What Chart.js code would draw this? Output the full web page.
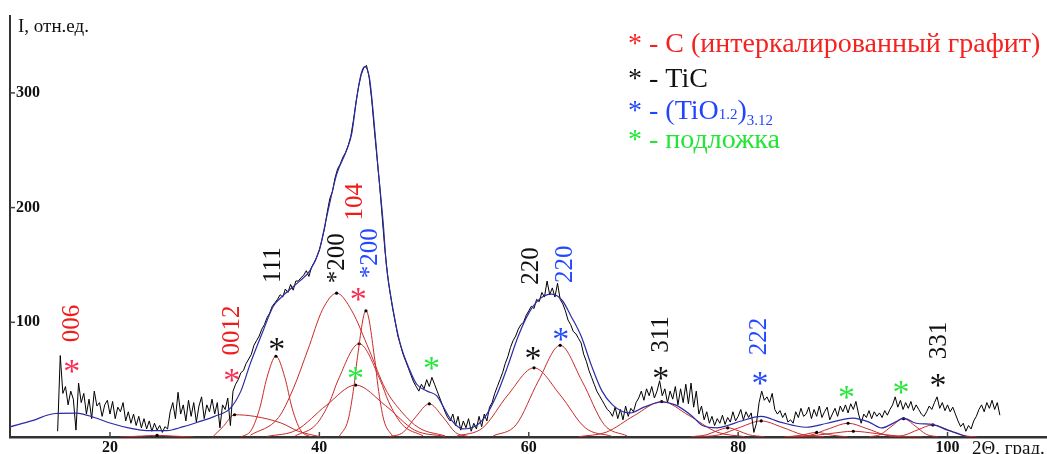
<!DOCTYPE html>
<html>
<head>
<meta charset="utf-8">
<script src="https://cdn.jsdelivr.net/npm/chart.js@4.4.1/dist/chart.umd.min.js"></script>
<style>
  html, body { margin: 0; padding: 0; background: #fff; }
  canvas { display: block; }
</style>
</head>
<body>
<canvas id="xrd" width="1047" height="454"></canvas>
<script>
// measured pattern: 2Θ from 15 to 105 deg, step 0.25
const angleStart = 15;
const angleStep = 0.25;
const intensity = [
  5, 71, 38, 44,   28, 40, 33, 6,   47, 30, 38, 20,   33, 16, 40, 27,   30, 18, 28, 32,
  20, 31, 16, 26,   22, 30, 14, 22,   12, 20, 10, 18,   8, 16, 7, 14,   5, 12, 6, 10,
  4, 9, 7, 22,   30, 16, 39, 20,   28, 14, 32, 18,   30, 13, 27, 35,   16, 28, 22, 33,
  20, 30, 8, 28,   24, 34, 10, 40,   46, 50, 56, 58,   64, 68, 72, 80,   84, 88, 94, 98,
  104, 108, 114, 117,   120, 124, 122, 129,   126, 133, 128, 136,   136, 139, 141, 145,   140, 148, 152, 157,
  163, 172, 182, 196,   208, 214, 226, 234,   238, 244, 248, 254,   262, 276, 292, 306,   316, 322, 324, 314,
  294, 268, 244, 220,   192, 164, 142, 126,   112, 100, 88, 80,   72, 66, 60, 54,   48, 44, 40, 46,
  42, 50, 44, 52,   46, 40, 34, 28,   22, 17, 14, 20,   10, 18, 6, 14,   8, 16, 5, 12,
  7, 18, 9, 20,   14, 26, 30, 38,   44, 50, 56, 64,   70, 78, 84, 88,   94, 98, 100, 106,
  110, 114, 112, 120,   118, 126, 122, 136,   124, 130, 122, 134,   120, 116, 110, 102,   98, 92, 90, 86,
  82, 72, 66, 58,   52, 46, 40, 36,   32, 28, 24, 22,   18, 26, 16, 24,   15, 27, 18, 25,
  22, 30, 34, 40,   32, 42, 36, 44,   34, 40, 49, 36,   42, 30, 40, 33,   44, 28, 42, 30,
  46, 29, 47, 26,   40, 20, 27, 15,   22, 12, 18, 10,   16, 12, 19, 11,   17, 13, 22, 14,
  18, 24, 15, 22,   17, 21, 4, 12,   30, 40, 32, 35,   30, 38, 24, 20,   23, 17, 21, 13,
  15, 12, 22, 17,   25, 18, 20, 26,   16, 24, 18, 27,   17, 22, 26, 15,   20, 25, 18, 27,
  22, 28, 21, 29,   24, 31, 20, 12,   20, 17, 23, 16,   22, 18, 21, 17,   23, 19, 24, 28,
  35, 26, 32, 24,   30, 25, 31, 23,   28, 24, 20, 18,   22, 27, 24, 30,   35, 25, 30, 23,
  28, 22, 26, 20,   14, 9, 12, 5,   10, 7, 14, 18,   24, 28, 22, 30,   25, 32, 24, 30,
  19
];

// total fit (blue envelope)
const fitCurve = [
  [10.45, 8.8], [12.5, 14], [14.75, 20.5], [16.8, 20.9], [18.5, 17], [20, 12.2], [22, 7.5],
  [23.5, 5.6], [25.4, 5.6], [27, 9], [28.6, 13.6], [30, 18], [31.5, 25.2], [32.5, 40],
  [33.4, 64], [34.6, 92], [35.6, 114], [36.5, 123], [38, 135], [39.1, 145], [40, 163],
  [40.7, 192], [41.65, 229], [42.6, 250], [43.1, 265], [43.56, 295], [44.0, 317], [44.35, 323],
  [44.8, 312], [45.15, 282], [45.6, 235], [46.1, 186], [46.4, 150], [47.06, 110], [47.7, 82],
  [48.65, 58], [49.3, 46], [50.3, 40], [51.2, 36], [51.8, 27], [52.5, 16], [53.7, 7],
  [55, 10], [56, 20], [57, 38], [58, 62], [59, 88], [60, 108], [61, 120], [62.2, 124.5],
  [63.2, 119], [64, 106], [65, 88], [66, 62], [67, 40], [68, 28], [69, 22], [69.7, 21],
  [71, 26], [72.7, 30.5], [74, 28], [75.5, 19], [76.6, 10], [78, 8], [79, 10], [80.2, 13.7],
  [82.2, 18], [84, 13], [86.5, 8.5], [88.5, 12], [90.96, 16.5], [92.5, 13], [93.7, 7.9],
  [95, 13], [95.8, 16.5], [97, 12], [98.6, 10.8], [100, 6], [101.8, 0.7]
];

// fitted components (red)
const comp0012 = [[29.8, 0], [30.8, 9], [31.9, 19.4], [33.8, 18], [36.4, 12], [38, 5], [40.2, 0]];
const compTiC111 = [[32.5, 0], [33.5, 6], [34.3, 25], [35, 52], [35.85, 70.4], [36.7, 52], [37.4, 25], [38.2, 6], [39.2, 0]];
const compTiC200 = [[33.4, 1.5], [36.1, 17], [37.5, 42], [38.9, 76], [40.3, 111], [41.65, 125.4], [43.1, 110], [44.75, 76], [46.3, 42], [47.85, 22], [49.5, 8], [52, 1]];
const comp104 = [[41.9, 0.5], [42.75, 15], [43.3, 44], [43.6, 67], [44.45, 110], [45.3, 67], [45.6, 44], [46.15, 15], [47, 0.5]];
const compTiO200 = [[37.7, 1], [39.7, 11], [41.0, 31], [41.76, 49], [43.8, 81.3], [45.84, 49], [46.6, 31], [47.9, 11], [49.9, 1]];
const compSub43 = [[35, 0.5], [37.8, 6], [40.65, 27.5], [43.46, 45.3], [46.3, 27.5], [49.1, 6], [52, 0.5]];
const compSub50 = [[46.7, 0.3], [48, 4], [49.2, 17.5], [50.5, 28.9], [51.8, 17.5], [53, 4], [54.3, 0.3]];
const compTiC220 = [[53.1, 0.7], [55.6, 8], [58.0, 36.6], [60.5, 60.3], [63.0, 36.6], [65.4, 8], [67.9, 0.7]];
const compTiO220 = [[56.6, 0.9], [58.8, 10.8], [60.9, 48.5], [63, 79.9], [65.1, 48.5], [67.2, 10.8], [69.4, 0.9]];
const compTiC311 = [[64.8, 0.3], [67.4, 4.2], [70.1, 18.8], [72.7, 30.9], [75.3, 18.8], [78, 4.2], [80.6, 0.3]];
const comp79 = [[75.5, 0.2], [77, 2], [78, 5.5], [79, 8], [80, 5.5], [81, 2], [82.5, 0.2]];
const compTiO222 = [[76.2, 0.2], [78.2, 1.9], [80.2, 8.5], [82.2, 14], [84.2, 8.5], [86.2, 1.9], [88.2, 0.2]];
const comp87 = [[84.5, 0.1], [86, 1.5], [87.5, 4], [89, 1.5], [90.5, 0.1]];
const compSub90 = [[85.1, 0.2], [86.9, 1.6], [88.7, 7.3], [90.5, 12], [92.3, 7.3], [94.1, 1.6], [95.9, 0.2]];
const comp91 = [[84.4, 0.1], [86.6, 0.7], [88.8, 3], [91, 5], [93.2, 3], [95.4, 0.7], [97.6, 0.1]];
const compSub96 = [[92.5, 0.2], [93.6, 2.2], [94.7, 9.7], [95.8, 16], [96.9, 9.7], [98, 2.2], [99.1, 0.2]];
const compTiC331 = [[94.4, 0.1], [95.8, 1.4], [97.2, 6.4], [98.6, 10.5], [100, 6.4], [101.4, 1.4], [102.8, 0.1]];
const comp24 = [[21, 0], [23, 0.8], [24.5, 1.5], [26, 0.8], [28, 0]];

const components = [comp0012, compTiC111, compTiC200, comp104, compTiO200, compSub43, compSub50,
  compTiC220, compTiO220, compTiC311, comp79, compTiO222, comp87, compSub90, comp91, compSub96,
  compTiC331, comp24];

const xTicks = [20, 40, 60, 80, 100];
const yTicks = [100, 200, 300];

// hkl labels (rotated) at 2Θ / intensity
const hklLabels = [
  ['006', 16.37, 98.9, 'red'], ['0012', 31.65, 92.8, 'red'], ['111', 35.57, 149.8, 'black'],
  ['*200', 41.73, 155.9, 'black'], ['104', 43.40, 205.1, 'red'], ['*200', 44.83, 160.2, 'blue'],
  ['220', 60.21, 149.0, 'black'], ['220', 63.46, 150.7, 'blue'], ['311', 72.63, 89.4, 'black'],
  ['222', 82.08, 87.7, 'blue'], ['331', 99.18, 84.2, 'black']
];
// phase markers
const markers = [
  [16.34, 62.6, 'pink'], [31.62, 54.0, 'pink'], [35.92, 81.6, 'black'], [43.72, 124.8, 'pink'],
  [43.46, 55.7, 'green'], [50.72, 64.6, 'green'], [60.40, 73.8, 'black'], [63.05, 90.2, 'blue'],
  [72.6, 55.7, 'black'], [82.08, 51.4, 'blue'], [90.36, 39.6, 'green'], [95.55, 43.9, 'green'],
  [99.1, 49.7, 'black']
];

const colors = { red: '#f01c1c', pink: '#fb2c52', black: '#111111', blue: '#2448ff', green: '#27e63a' };
const serif = '"Liberation Serif", "Times New Roman", serif';

const measured = intensity.map((v, i) => ({ x: angleStart + i * angleStep, y: v }));
const toXY = pts => pts.map(p => ({ x: p[0], y: p[1] }));

const datasets = [
  { data: toXY(fitCurve), borderColor: '#2b2ba6', borderWidth: 1.2, pointRadius: 0, tension: 0.4, cubicInterpolationMode: 'monotone', order: 0 },
  { data: measured, borderColor: '#000', borderWidth: 1, pointRadius: 0, tension: 0, order: 1 }
];
components.forEach(c => {
  const top = Math.max(...c.map(p => p[1]));
  datasets.push({
    data: toXY(c), borderColor: '#c92a2a', borderWidth: 1, tension: 0.4, cubicInterpolationMode: 'monotone', order: 2,
    pointRadius: ctx => (ctx.raw && ctx.raw.y === top ? 1.6 : 0),
    pointBackgroundColor: '#000', pointBorderWidth: 0
  });
});

const decorations = {
  id: 'decorations',
  afterDraw(chart) {
    const ctx = chart.ctx, xs = chart.scales.x, ys = chart.scales.y;
    const area = chart.chartArea;
    ctx.save();
    // tick marks pointing inside
    ctx.strokeStyle = '#444';
    ctx.lineWidth = 1.5;
    xTicks.forEach(v => {
      const px = xs.getPixelForValue(v);
      ctx.beginPath(); ctx.moveTo(px, area.bottom); ctx.lineTo(px, area.bottom - 5); ctx.stroke();
    });
    yTicks.forEach(v => {
      const py = ys.getPixelForValue(v);
      ctx.beginPath(); ctx.moveTo(area.left, py); ctx.lineTo(area.left + 5, py); ctx.stroke();
    });
    // axis titles
    ctx.fillStyle = '#111';
    ctx.font = '19px ' + serif;
    ctx.textAlign = 'left';
    ctx.textBaseline = 'alphabetic';
    ctx.fillText('I, отн.ед.', area.left + 8, 32);
    ctx.fillText('2Θ, град.', 972, 454);

    // hkl labels
    ctx.font = '25px ' + serif;
    hklLabels.forEach(([t, x, y, c]) => {
      ctx.save();
      ctx.translate(xs.getPixelForValue(x), ys.getPixelForValue(y));
      ctx.rotate(-Math.PI / 2);
      ctx.fillStyle = colors[c];
      ctx.textAlign = 'center';
      ctx.textBaseline = 'middle';
      ctx.fillText(t, 0, 0);
      ctx.restore();
    });
    // markers
    const ms = 34;
    ctx.font = ms + 'px ' + serif;
    ctx.textAlign = 'center';
    ctx.textBaseline = 'alphabetic';
    markers.forEach(([x, y, c]) => {
      ctx.fillStyle = colors[c];
      ctx.fillText('*', xs.getPixelForValue(x), ys.getPixelForValue(y) + ms * 0.48);
    });

    // legend
    ctx.textAlign = 'left';
    const lx = 628;
    ctx.font = '28px ' + serif;
    ctx.fillStyle = '#f52222';
    ctx.fillText('* - C (интеркалированный графит)', lx, 52);
    ctx.fillStyle = '#111';
    ctx.fillText('* - TiC', lx, 87);
    ctx.fillStyle = '#2244ff';
    let cx = lx;
    const part = (t, size, dy) => {
      ctx.font = size + 'px ' + serif;
      ctx.fillText(t, cx, 119 + dy);
      cx += ctx.measureText(t).width;
    };
    part('* - (TiO', 28, 0);
    part('1.2', 15, 0);
    part(')', 28, 0);
    part('3.12', 15, 6);
    ctx.font = '28px ' + serif;
    ctx.fillStyle = '#22e633';
    ctx.fillText('* - подложка', lx, 148);
    ctx.restore();
  }
};

new Chart(document.getElementById('xrd'), {
  type: 'line',
  data: { datasets },
  options: {
    responsive: false,
    animation: false,
    layout: { padding: { left: 10, top: 12, right: 0, bottom: 0 } },
    plugins: { legend: { display: false }, tooltip: { enabled: false } },
    scales: {
      x: {
        type: 'linear', min: 10.45, max: 109.5,
        grid: { display: false, drawTicks: false },
        border: { color: '#333', width: 2.5 },
        afterBuildTicks: s => { s.ticks = xTicks.map(v => ({ value: v })); },
        afterFit: s => { s.height = 17; },
        ticks: { color: '#111', padding: 3, font: { family: serif, size: 16, weight: 'bold', lineHeight: 1 } }
      },
      y: {
        type: 'linear', min: 0, max: 367.4,
        grid: { display: false, drawTicks: false },
        border: { color: '#333', width: 2 },
        afterBuildTicks: s => { s.ticks = yTicks.map(v => ({ value: v })); },
        afterFit: s => { s.width = 0; },
        ticks: { color: '#111', mirror: true, padding: 6, font: { family: serif, size: 16, weight: 'bold' } }
      }
    }
  },
  plugins: [decorations]
});
</script>
</body>
</html>
